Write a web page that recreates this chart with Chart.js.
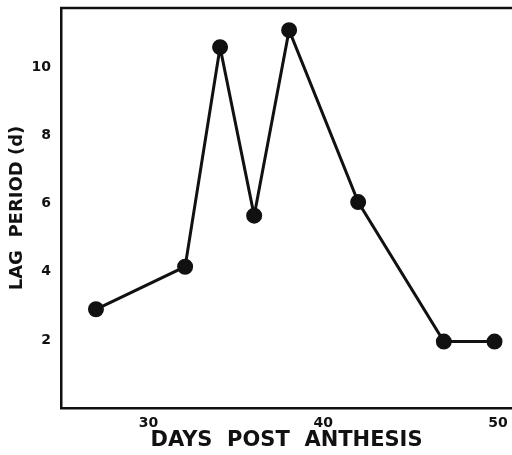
<!DOCTYPE html>
<html lang="en">
<head>
    <meta charset="UTF-8">
    <title>Lag period vs days post anthesis</title>
    <script src="https://cdn.jsdelivr.net/npm/chart.js"></script>
    <style>
        html, body { margin: 0; padding: 0; background: #fff; }
        #wrap { width: 512px; height: 455px; }
    </style>
</head>
<body>
<div id="wrap"><canvas id="lagChart" width="512" height="455"></canvas></div>

<script>
    // values
    const daysPostAnthesis = [27, 32.1, 34.1, 36.05, 38.05, 42, 46.9, 49.8];
    const lagPeriod = [2.9, 4.15, 10.6, 5.65, 11.1, 6.05, 1.95, 1.95];
    const xTickValues = [30, 40, 50];
    const yTickValues = [2, 4, 6, 8, 10];

    const points = daysPostAnthesis.map((d, i) => ({ x: d, y: lagPeriod[i] }));

    // top border of the frame (the figure has a box on top, none on the right)
    const frameTop = {
        id: 'frameTop',
        afterDraw(chart) {
            const { ctx, chartArea } = chart;
            ctx.save();
            ctx.strokeStyle = '#111';
            ctx.lineWidth = 2.5;
            ctx.beginPath();
            ctx.moveTo(chartArea.left - 1, chartArea.top);
            ctx.lineTo(chartArea.right, chartArea.top);
            ctx.stroke();
            ctx.restore();
        }
    };

    const tickFont = { family: 'DejaVu Sans', size: 14, weight: 'bold' };

    new Chart(document.getElementById('lagChart'), {
        type: 'scatter',
        data: {
            datasets: [{
                data: points,
                showLine: true,
                clip: false,
                borderColor: '#111',
                backgroundColor: '#111',
                borderWidth: 3,
                pointRadius: 6.5,
                pointHoverRadius: 6.5
            }]
        },
        options: {
            responsive: false,
            animation: false,
            layout: { autoPadding: false, padding: { top: 8, right: 0, left: 0, bottom: 0 } },
            plugins: {
                legend: { display: false },
                tooltip: { enabled: false }
            },
            scales: {
                x: {
                    type: 'linear',
                    min: 25,
                    max: 50.8,
                    grid: { display: false, drawTicks: false },
                    border: { display: true, color: '#111', width: 2.5 },
                    afterBuildTicks(axis) {
                        axis.ticks = xTickValues.map(v => ({ value: v }));
                    },
                    afterFit(axis) {
                        axis.height = 47;
                        axis.paddingLeft = 0;
                        axis.paddingRight = 0;
                    },
                    ticks: { color: '#111', font: tickFont, padding: 7, maxRotation: 0 },
                    title: {
                        display: true,
                        text: 'DAYS  POST  ANTHESIS',
                        color: '#111',
                        font: { family: 'DejaVu Sans', size: 21, weight: 'bold' },
                        padding: { top: 0, bottom: 2 }
                    }
                },
                y: {
                    type: 'linear',
                    min: 0,
                    max: 11.75,
                    grid: { display: false, drawTicks: false },
                    border: { display: true, color: '#111', width: 2.5 },
                    afterBuildTicks(axis) {
                        axis.ticks = yTickValues.map(v => ({ value: v }));
                    },
                    afterFit(axis) {
                        axis.width = 61;
                        axis.paddingTop = 0;
                        axis.paddingBottom = 0;
                    },
                    ticks: { color: '#111', font: tickFont, padding: 10 },
                    title: {
                        display: true,
                        text: 'LAG  PERIOD (d)',
                        color: '#111',
                        font: { family: 'DejaVu Sans', size: 18, weight: 'bold' },
                        padding: { top: 7, bottom: 0 }
                    }
                }
            }
        },
        plugins: [frameTop]
    });
</script>
</body>
</html>
